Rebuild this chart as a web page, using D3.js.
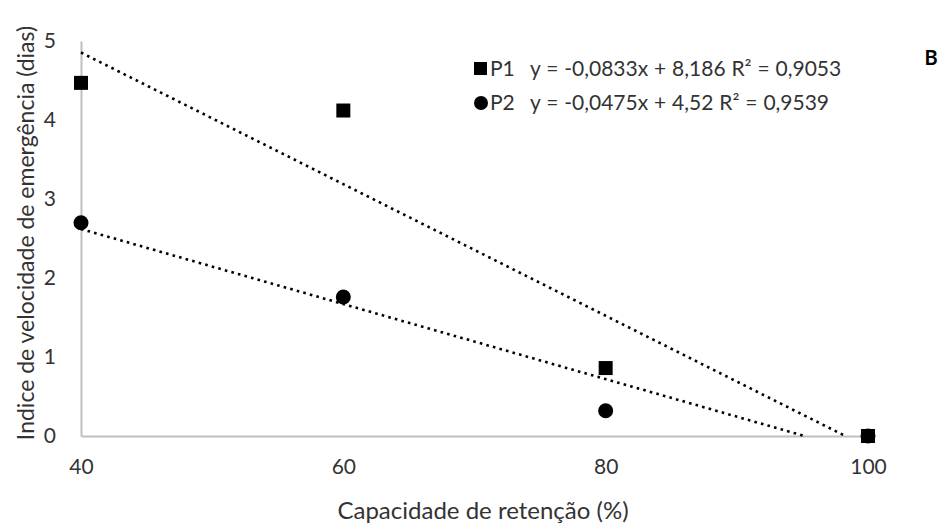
<!DOCTYPE html>
<html>
<head>
<meta charset="utf-8">
<script src="https://cdn.jsdelivr.net/npm/d3@7"></script>
<style>
  body { margin: 0; background: #fff; }
  svg { display: block; font-family: Lato, "Open Sans", sans-serif; }
  .axis path { stroke: #bfbfbf; stroke-width: 2; }
  .axis line { display: none; }
  .axis text { fill: #333; font-size: 21px; font-family: Lato, sans-serif; }
</style>
</head>
<body>
<div id="chart"></div>
<script>
// data
const capacidade = [40, 60, 80, 100];
const p1 = [4.47, 4.12, 0.86, 0];
const p2 = [2.70, 1.76, 0.32, 0];
const xTicks = [40, 60, 80, 100];
const yTicks = [0, 1, 2, 3, 4, 5];
const trends = [
  {name: 'P1', a: -0.0833, b: 8.186, eq: 'y = -0,0833x + 8,186 R² = 0,9053', shape: 'square'},
  {name: 'P2', a: -0.0475, b: 4.52, eq: 'y = -0,0475x + 4,52 R² = 0,9539', shape: 'circle'}
];

const width = 944, height = 528;
const margin = {t: 41, r: 76, b: 92, l: 81};
const w = width - margin.l - margin.r;
const h = height - margin.t - margin.b;

const svg = d3.select('#chart').append('svg')
  .attr('width', width)
  .attr('height', height);

const plot = svg.append('g')
  .attr('transform', `translate(${margin.l},${margin.t})`);

const scaleX = d3.scaleLinear().domain([40, 100]).range([0, w]);
const scaleY = d3.scaleLinear().domain([0, 5]).range([h, 0]);

//axes
plot.append('g')
  .attr('class', 'axis axis-x')
  .attr('transform', `translate(0,${h})`)
  .call(d3.axisBottom(scaleX).tickValues(xTicks).tickSize(0).tickSizeOuter(0).tickPadding(23));

plot.append('g')
  .attr('class', 'axis axis-y')
  .call(d3.axisLeft(scaleY).tickValues(yTicks).tickFormat(d3.format('d'))
    .tickSize(0).tickSizeOuter(0).tickPadding(25));

//trend lines, cut where they reach 0
const line = d3.line().x(d => scaleX(d[0])).y(d => scaleY(d[1]));
plot.selectAll('.trend')
  .data(trends)
  .enter().append('path')
  .attr('class', 'trend')
  .attr('d', t => {
    const xEnd = Math.min(100, -t.b / t.a);
    return line([[40, t.a * 40 + t.b], [xEnd, t.a * xEnd + t.b]]);
  })
  .style('fill', 'none')
  .style('stroke', '#000')
  .style('stroke-width', 2.6)
  .style('stroke-dasharray', '2.6 4.2');

//points
const sq = 14;
plot.selectAll('.p1')
  .data(capacidade.map((c, i) => ({x: c, y: p1[i]})))
  .enter().append('rect')
  .attr('class', 'p1')
  .attr('x', d => scaleX(d.x) - sq / 2)
  .attr('y', d => scaleY(d.y) - sq / 2)
  .attr('width', sq)
  .attr('height', sq)
  .style('fill', '#000');

plot.selectAll('.p2')
  .data(capacidade.map((c, i) => ({x: c, y: p2[i]})))
  .enter().append('circle')
  .attr('class', 'p2')
  .attr('cx', d => scaleX(d.x))
  .attr('cy', d => scaleY(d.y))
  .attr('r', 7.5)
  .style('fill', '#000');

//legend
const legend = svg.selectAll('.legend')
  .data(trends)
  .enter().append('g')
  .attr('class', 'legend')
  .attr('transform', (d, i) => `translate(481,${69 + i * 34})`);
legend.filter(d => d.shape === 'square').append('rect')
  .attr('x', -7).attr('y', -7).attr('width', 13).attr('height', 13)
  .style('fill', '#000');
legend.filter(d => d.shape === 'circle').append('circle')
  .attr('r', 7).style('fill', '#000');
legend.append('text')
  .attr('x', 9).attr('dy', '0.35em')
  .style('font-size', '21px').style('fill', '#333')
  .text(d => d.name);
legend.append('text')
  .attr('x', 49).attr('dy', '0.35em')
  .style('font-size', '21px').style('fill', '#333')
  .style('word-spacing', '0.5px')
  .text(d => d.eq);

//labels
svg.append('text')
  .attr('x', 931).attr('y', 58).attr('dy', '0.35em')
  .attr('text-anchor', 'middle')
  .style('font-size', '20px').style('font-weight', 'bold')
  .text('B');

svg.append('text')
  .attr('x', 483).attr('y', 519)
  .attr('text-anchor', 'middle')
  .style('font-size', '24px').style('fill', '#333')
  .text('Capacidade de retenção (%)');

svg.append('text')
  .attr('transform', 'translate(26,233) rotate(-90)')
  .attr('text-anchor', 'middle')
  .attr('dy', '0.35em')
  .style('font-size', '23px').style('fill', '#333')
  .text('Indice de velocidade de emergência (dias)');
</script>
</body>
</html>
